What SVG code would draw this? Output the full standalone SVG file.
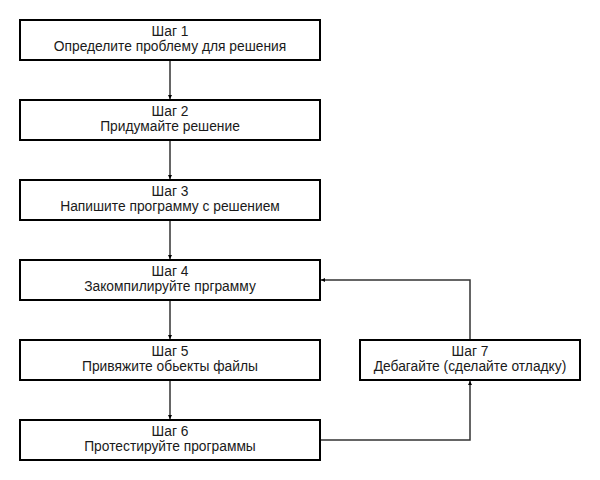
<svg xmlns="http://www.w3.org/2000/svg" width="600" height="480" viewBox="0 0 600 480">
<defs>
<style>
.box{fill:#fff;stroke:#000;stroke-width:2}
.t{font-family:"Liberation Sans",Arial,sans-serif;font-size:13.8px;fill:#1a1a1a;text-anchor:middle}
.c{fill:none;stroke:#333;stroke-width:1.5}
</style>
<marker id="ah" markerWidth="4" markerHeight="4" refX="4" refY="2" orient="auto" markerUnits="userSpaceOnUse">
<path d="M0,0 L4,2 L0,4 Z" fill="#000"/>
</marker>
</defs>
<rect width="600" height="480" fill="#fff"/>
<g id="connectors">
<path class="c" d="M170,60 V99" marker-end="url(#ah)"/>
<path class="c" d="M170,140 V179" marker-end="url(#ah)"/>
<path class="c" d="M170,220 V259" marker-end="url(#ah)"/>
<path class="c" d="M170,300 V339" marker-end="url(#ah)"/>
<path class="c" d="M170,380 V419" marker-end="url(#ah)"/>
<path class="c" d="M320,440 H470 V381" marker-end="url(#ah)"/>
<path class="c" d="M470,340 V280 H321" marker-end="url(#ah)"/>
</g>
<g id="step1"><rect class="box" x="20" y="20" width="300" height="40"/><text class="t" x="170" y="36">Шаг 1</text><text class="t" x="170" y="51">Определите проблему для решения</text></g>
<g id="step2"><rect class="box" x="20" y="100" width="300" height="40"/><text class="t" x="170" y="116">Шаг 2</text><text class="t" x="170" y="131">Придумайте решение</text></g>
<g id="step3"><rect class="box" x="20" y="180" width="300" height="40"/><text class="t" x="170" y="196">Шаг 3</text><text class="t" x="170" y="211">Напишите программу с решением</text></g>
<g id="step4"><rect class="box" x="20" y="260" width="300" height="40"/><text class="t" x="170" y="276">Шаг 4</text><text class="t" x="170" y="291">Закомпилируйте прграмму</text></g>
<g id="step5"><rect class="box" x="20" y="340" width="300" height="40"/><text class="t" x="170" y="356">Шаг 5</text><text class="t" x="170" y="371">Привяжите обьекты файлы</text></g>
<g id="step6"><rect class="box" x="20" y="420" width="300" height="40"/><text class="t" x="170" y="436">Шаг 6</text><text class="t" x="170" y="451">Протестируйте программы</text></g>
<g id="step7"><rect class="box" x="360" y="340" width="220" height="40"/><text class="t" x="470" y="356">Шаг 7</text><text class="t" x="470" y="371">Дебагайте (сделайте отладку)</text></g>
</svg>
